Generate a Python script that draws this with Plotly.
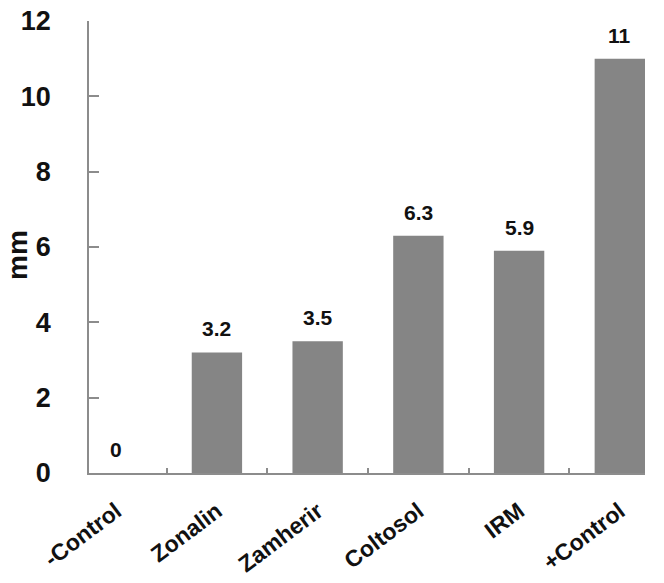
import plotly.graph_objects as go

categories = ["-Control", "Zonalin", "Zamherir", "Coltosol", "IRM", "+Control"]
values = [0, 3.2, 3.5, 6.3, 5.9, 11]
value_labels = ["0", "3.2", "3.5", "6.3", "5.9", "11"]
y_ticks = [0, 2, 4, 6, 8, 10, 12]
y_title = "mm"

FONT = "Liberation Sans, Arial, sans-serif"
AXIS_GRAY = "#8c8c8c"

fig = go.Figure()
fig.add_trace(go.Bar(
    x=categories, y=values, width=0.5,
    marker=dict(color="#858585", line=dict(width=0)),
    hoverinfo="skip",
))

for c, v, t in zip(categories, values, value_labels):
    fig.add_annotation(x=c, y=v, text="<b>%s</b>" % t, showarrow=False,
                       yanchor="bottom", yshift=10,
                       font=dict(family=FONT, size=21, color="#111111"))

# y-axis title placed as a rotated annotation
fig.add_annotation(x=0, y=0.5, xref="paper", yref="paper",
                   text="<b>%s</b>" % y_title, textangle=-90, showarrow=False,
                   xanchor="center", yanchor="middle", xshift=-72, yshift=-8,
                   font=dict(family=FONT, size=28, color="#111111"))

fig.update_layout(
    width=664, height=583,
    margin=dict(l=89, r=19, t=21, b=110),
    paper_bgcolor="white", plot_bgcolor="white",
    showlegend=False,
    font=dict(family=FONT, color="#111111"),
    bargap=0.5,
)
fig.update_xaxes(
    type="category", range=[-0.27, 5.25], automargin=False,
    showline=True, linecolor=AXIS_GRAY, linewidth=1.5,
    ticks="inside", ticklen=5, tickcolor=AXIS_GRAY, tickwidth=1.5,
    tickson="boundaries",
    tickangle=-37,
    tickfont=dict(family=FONT, size=23, color="#111111", weight="bold"),
    ticklabelstandoff=14, ticklabeloverflow="allow",
    showgrid=False, zeroline=False,
)
fig.update_yaxes(
    range=[0, 12], tickvals=y_ticks, automargin=False,
    showline=True, linecolor=AXIS_GRAY, linewidth=1.5,
    ticks="inside", ticklen=10, tickcolor=AXIS_GRAY, tickwidth=1.5,
    tickfont=dict(family=FONT, size=27, color="#111111", weight="bold"),
    ticklabelstandoff=31, ticklabeloverflow="allow",
    showgrid=False, zeroline=False,
)

fig.write_html("out.html", config={"displayModeBar": False},
               post_script="document.body.style.margin='0';")
